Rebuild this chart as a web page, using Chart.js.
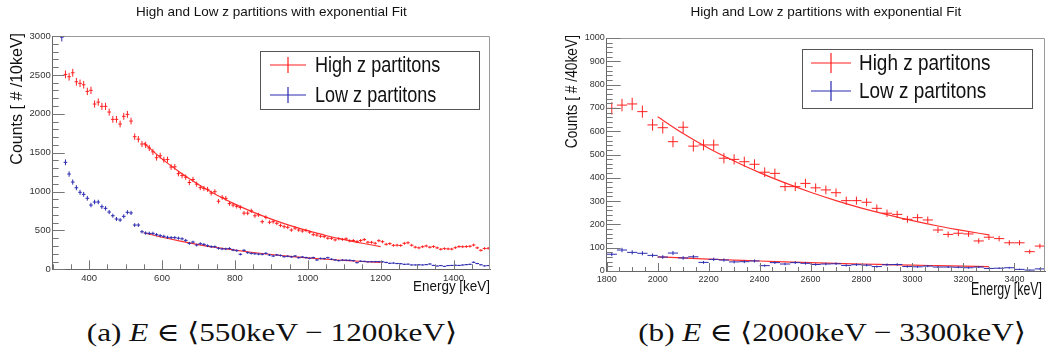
<!DOCTYPE html>
<html>
<head>
<meta charset="utf-8">
<script src="https://cdn.jsdelivr.net/npm/chart.js@4.4.0/dist/chart.umd.min.js"></script>
<style>
  body { margin: 0; background: #fff; width: 1050px; height: 356px; position: relative; overflow: hidden; }
  .pane { position: absolute; top: 0; height: 300px; }
  #paneA { left: 0; width: 520px; }
  #paneB { left: 525px; width: 525px; }
  .caption { position: absolute; top: 318px; transform: translateX(-50%) scaleX(1.2); font-family: "Liberation Serif", "DejaVu Serif", serif; font-size: 26px; line-height: 30px; white-space: nowrap; color: #111; }
  #capA { left: 272px; }
  #capB { left: 832px; }
</style>
</head>
<body>
<div class="pane" id="paneA"><canvas id="chartA" width="520" height="300"></canvas></div>
<div class="pane" id="paneB"><canvas id="chartB" width="525" height="300"></canvas></div>
<div class="caption" id="capA">(a) <i>E</i> ∈ ⟨550keV − 1200keV⟩</div>
<div class="caption" id="capB">(b) <i>E</i> ∈ ⟨2000keV − 3300keV⟩</div>
<script>
const chartTitle = 'High and Low z partitions with exponential Fit';
const seriesNames = ['High z partitons', 'Low z partitons'];

// (a) 10 keV bins, first bin centre 325 keV
const firstBinA = 325;
const binWidthA = 10;
const highZA = [
  null, 2506, 2476, 2527, 2411, 2391, 2373, 2288, 2301, 2125,
  2150, 2095, 2095, 2022, 1928, 1928, 1868, 1967, 1992, 1906,
  1705, 1673, 1611, 1600, 1560, 1510, 1435, 1460, 1409, 1411,
  1315, 1318, 1230, 1205, 1185, 1116, 1155, 1095, 1050, 1040,
  1028, 980, 998, 875, 925, 912, 845, 826, 810, 795,
  722, 722, 752, 688, 700, 612, 668, 605, 612, 592,
  565, 548, 540, 505, 530, 505, 492, 500, 478, 445,
  440, 425, 420, 400, 398, 378, 394, 385, 392, 366,
  370, 356, 370, 382, 348, 347, 335, 368, 355, 322,
  330, 308, 310, 306, 334, 341, 310, 285, 276, 290,
  300, 284, 292, 276, 258, 266, 262, 260, 278, 292,
  290, 292, 296, 312, 276, 244, 268, 270
];
const lowZA = [
  2985, 1375, 1225, 1122, 1049, 990, 964, 913, 826, 865,
  865, 805, 784, 736, 689, 647, 634, 681, 733, 725,
  569, 569, 483, 466, 462, 462, 445, 432, 424, 411,
  407, 407, 400, 392, 372, 334, 350, 312, 329, 320,
  303, 291, 290, 270, 262, 262, 268, 248, 240, 193,
  244, 214, 205, 200, 195, 193, 205, 184, 171, 185,
  178, 162, 168, 160, 171, 149, 158, 150, 141, 150,
  120, 140, 137, 149, 130, 120, 111, 118, 117, 116,
  111, 85, 104, 102, 96, 98, 98, 98, 96, 88,
  77, 80, 74, 72, 64, 66, 56, 56, 58, 56,
  60, 68, 50, 42, 48, 38, 48, 50, 52, 50,
  55, 60, 64, 90, 74, 58, 44, 48
];
const fitEnergyA = [550, 600, 650, 700, 750, 800, 850, 900, 950, 1000, 1050, 1100, 1150, 1200];
const fitHighA = [1625, 1420, 1245, 1090, 955, 838, 735, 645, 565, 497, 435, 382, 335, 292];
const fitLowA = [470, 412, 362, 318, 280, 246, 216, 190, 167, 147, 129, 114, 100, 88];
const xTicksA = [400, 600, 800, 1000, 1200, 1400];
const yTicksA = [0, 500, 1000, 1500, 2000, 2500, 3000];

// (b) 40 keV bins, first bin centre 1820 keV
const firstBinB = 1820;
const binWidthB = 40;
const highZB = [
  698, 712, 717, 684, 627, 615, 555, 617, 536, 541,
  541, 484, 479, 469, 458, 424, 419, 362, 362, 376,
  357, 348, 336, 302, 302, 295, 269, 248, 243, 222,
  229, 219, 176, 157, 162, 159, 129, 145, 139, 121,
  121, 83, 107
];
const lowZB = [
  72, 90, 80, 76, 67, 60, 77, 56, 61, 37,
  50, 47, 39, 40, 43, 23, 36, 30, 36, 33,
  28, 30, 31, 24, 27, 25, 19, 27, 28, 19,
  18, 21, 17, 17, 16, 14, 17, 11, 12, 14,
  7, 4, 9
];
const fitEnergyB = [2000, 2100, 2200, 2300, 2400, 2500, 2600, 2700, 2800, 2900, 3000, 3100, 3200, 3300];
const fitHighB = [662, 590, 527, 472, 422, 378, 338, 302, 270, 242, 216, 193, 173, 155];
const fitLowB = [61, 56, 51, 47, 43, 39.5, 36, 33, 30, 27.5, 25, 23, 21, 19];
const xTicksB = [1800, 2000, 2200, 2400, 2600, 2800, 3000, 3200, 3400];
const yTicksB = [0, 100, 200, 300, 400, 500, 600, 700, 800, 900, 1000];

const RED = '#ff2020';
const BLUE = '#2b2bb0';
const FIT = '#ff3030';
const SANS = "'Liberation Sans', Arial, sans-serif";

Chart.defaults.font.family = SANS;
Chart.defaults.color = '#333';
Chart.defaults.animation = false;

function binPoints(first, width, values) {
  return values
    .map((v, i) => ({ x: first + i * width, y: v }))
    .filter(p => p.y !== null);
}

function curvePoints(xs, ys) {
  return xs.map((x, i) => ({ x: x, y: ys[i] }));
}

// crosses: bin width horizontally, sqrt(N) vertically
const errorBars = {
  id: 'errorBars',
  afterDatasetsDraw(chart) {
    const { ctx, chartArea: a, scales: { x, y } } = chart;
    ctx.save();
    ctx.beginPath();
    ctx.rect(a.left, a.top, a.width, a.height);
    ctx.clip();
    chart.data.datasets.forEach(ds => {
      if (!ds.halfWidth) return;
      ctx.strokeStyle = ds.borderColor;
      ctx.lineWidth = 1;
      ctx.beginPath();
      ds.data.forEach(p => {
        const px = x.getPixelForValue(p.x);
        const py = y.getPixelForValue(p.y);
        const err = Math.sqrt(p.y);
        ctx.moveTo(x.getPixelForValue(p.x - ds.halfWidth), py);
        ctx.lineTo(x.getPixelForValue(p.x + ds.halfWidth), py);
        ctx.moveTo(px, y.getPixelForValue(p.y + err));
        ctx.lineTo(px, y.getPixelForValue(p.y - err));
      });
      ctx.stroke();
    });
    ctx.restore();
  }
};

// frame on top/right and tick marks pointing into the plot
const rootFrame = {
  id: 'rootFrame',
  afterDraw(chart, args, o) {
    const { ctx, chartArea: a, scales: { x, y } } = chart;
    ctx.save();
    ctx.lineWidth = 1;
    ctx.strokeStyle = o.frameColor;
    ctx.beginPath();
    ctx.moveTo(a.left, Math.round(a.top) + 0.5);
    ctx.lineTo(Math.round(a.right) - 0.5, Math.round(a.top) + 0.5);
    ctx.lineTo(Math.round(a.right) - 0.5, a.bottom);
    ctx.stroke();

    ctx.strokeStyle = o.tickColor;
    ctx.beginPath();
    const xMajor = x.ticks.map(t => t.value);
    for (let v = Math.ceil(x.min / o.xMinor) * o.xMinor; v < x.max; v += o.xMinor) {
      const len = xMajor.includes(v) ? o.xMajorLen : o.xMinorLen;
      const px = Math.round(x.getPixelForValue(v)) + 0.5;
      ctx.moveTo(px, a.bottom);
      ctx.lineTo(px, a.bottom - len);
    }
    const yMajor = y.ticks.map(t => t.value);
    for (let v = Math.ceil(y.min / o.yMinor) * o.yMinor; v <= y.max; v += o.yMinor) {
      const len = yMajor.includes(v) ? o.yMajorLen : o.yMinorLen;
      const py = Math.round(y.getPixelForValue(v)) + 0.5;
      ctx.moveTo(a.left, py);
      ctx.lineTo(a.left + len, py);
    }
    ctx.stroke();
    ctx.restore();
  }
};

// axis titles, right-aligned at the axis end; stretch < 1 narrows the glyphs
const axisTitles = {
  id: 'axisTitles',
  afterDraw(chart, args, o) {
    const ctx = chart.ctx;
    o.items.forEach(t => {
      ctx.save();
      ctx.translate(t.x, t.y);
      ctx.rotate(t.rotate);
      ctx.scale(t.stretch, 1);
      ctx.font = t.font;
      ctx.fillStyle = '#111';
      ctx.textAlign = 'right';
      ctx.textBaseline = 'middle';
      ctx.fillText(t.text, 0, 0);
      ctx.restore();
    });
  }
};

// boxed legend inside the frame
const boxLegend = {
  id: 'boxLegend',
  afterDraw(chart, args, o) {
    const { ctx } = chart;
    const [l, t, r, b] = o.box;
    ctx.save();
    ctx.fillStyle = '#fff';
    ctx.fillRect(l, t, r - l, b - t);
    ctx.strokeStyle = '#555';
    ctx.lineWidth = 1;
    ctx.strokeRect(l + 0.5, t + 0.5, r - l, b - t);
    const entries = chart.data.datasets.filter(d => d.halfWidth);
    entries.forEach((ds, i) => {
      const cy = o.rows[i];
      const cx = (o.lineX[0] + o.lineX[1]) / 2;
      ctx.strokeStyle = ds.borderColor;
      ctx.lineWidth = 1.2;
      ctx.beginPath();
      ctx.moveTo(o.lineX[0], cy);
      ctx.lineTo(o.lineX[1], cy);
      ctx.moveTo(cx, cy - o.barHalf);
      ctx.lineTo(cx, cy + o.barHalf);
      ctx.stroke();
      ctx.save();
      ctx.translate(o.textX, cy);
      ctx.scale(o.textScale, 1);
      ctx.fillStyle = '#111';
      ctx.font = o.font;
      ctx.textBaseline = 'middle';
      ctx.fillText(ds.label, 0, 1);
      ctx.restore();
    });
    ctx.restore();
  }
};

function makeChart(id, s) {
  return new Chart(document.getElementById(id), {
    type: 'scatter',
    data: {
      datasets: [
        { label: seriesNames[0], data: binPoints(s.first, s.width, s.high), borderColor: RED, pointRadius: 0, halfWidth: s.width / 2 },
        { label: seriesNames[1], data: binPoints(s.first, s.width, s.low), borderColor: BLUE, pointRadius: 0, halfWidth: s.width / 2 },
        { label: 'fit high', data: curvePoints(s.fitE, s.fitHigh), showLine: true, borderColor: FIT, borderWidth: 1.2, pointRadius: 0, cubicInterpolationMode: 'monotone' },
        { label: 'fit low', data: curvePoints(s.fitE, s.fitLow), showLine: true, borderColor: FIT, borderWidth: 1.2, pointRadius: 0, cubicInterpolationMode: 'monotone' }
      ]
    },
    options: {
      responsive: false,
      layout: { padding: { left: 0, top: 0, right: s.padRight, bottom: 0 } },
      scales: {
        x: {
          type: 'linear', min: s.xMin, max: s.xMax,
          afterBuildTicks: sc => { sc.ticks = s.xTicks.map(v => ({ value: v })); },
          afterFit: sc => { sc.height = s.xAxisH; },
          grid: { display: false, drawTicks: false },
          border: { display: true, color: '#666', width: 1 },
          ticks: { padding: s.xTickPad, font: { size: s.tickSize }, color: '#333', maxRotation: 0, autoSkip: false, callback: v => String(v) }
        },
        y: {
          type: 'linear', min: s.yMin, max: s.yMax,
          afterBuildTicks: sc => { sc.ticks = s.yTicks.map(v => ({ value: v })); },
          afterFit: sc => { sc.width = s.yAxisW; },
          grid: { display: false, drawTicks: false },
          border: { display: true, color: '#666', width: 1 },
          ticks: { padding: 2, font: { size: s.tickSize }, color: '#333', autoSkip: false, callback: v => String(v) }
        }
      },
      plugins: {
        legend: { display: false },
        tooltip: { enabled: false },
        title: {
          display: true, text: chartTitle, fullSize: false, color: '#111',
          font: { size: 13.5, weight: 'normal' },
          padding: { top: 3.9, bottom: s.titleGap }
        },
        rootFrame: {
          frameColor: '#999', tickColor: '#777',
          xMinor: 50, xMajorLen: s.xMajorLen, xMinorLen: s.xMinorLen,
          yMinor: s.yMinor, yMajorLen: s.yMajorLen, yMinorLen: s.yMinorLen
        },
        axisTitles: { items: s.titles },
        boxLegend: s.legend
      }
    },
    plugins: [errorBars, rootFrame, axisTitles, boxLegend]
  });
}

makeChart('chartA', {
  first: firstBinA, width: binWidthA, high: highZA, low: lowZA,
  fitE: fitEnergyA, fitHigh: fitHighA, fitLow: fitLowA,
  xMin: 300, xMax: 1500, yMin: 0, yMax: 3000, xTicks: xTicksA, yTicks: yTicksA,
  padRight: 30, yAxisW: 52.7, xAxisH: 30.7, titleGap: 15.9,
  tickSize: 9.5, xTickPad: 3,
  titles: [
    { text: 'Counts [ # /10keV]', x: 17.5, y: 33, rotate: -Math.PI / 2, stretch: 1, font: '16px ' + SANS },
    { text: 'Energy [keV]', x: 490, y: 287, rotate: 0, stretch: 0.96, font: '14px ' + SANS }
  ],
  xMajorLen: 9, xMinorLen: 5, yMinor: 100, yMajorLen: 12, yMinorLen: 6,
  legend: { box: [260, 51, 479, 109], lineX: [270, 306], barHalf: 8, rows: [65, 95], textX: 315, textScale: 0.82, font: '22px ' + SANS }
});

makeChart('chartB', {
  first: firstBinB, width: binWidthB, high: highZB, low: lowZB,
  fitE: fitEnergyB, fitHigh: fitHighB, fitLow: fitLowB,
  xMin: 1800, xMax: 3520, yMin: 0, yMax: 1000, xTicks: xTicksB, yTicks: yTicksB,
  padRight: 5, yAxisW: 81.7, xAxisH: 29, titleGap: 17.9,
  tickSize: 9, xTickPad: 3,
  titles: [
    { text: 'Counts [ # /40keV]', x: 47, y: 35, rotate: -Math.PI / 2, stretch: 0.81, font: '17px ' + SANS },
    { text: 'Energy [keV]', x: 517, y: 290, rotate: 0, stretch: 0.7, font: '17.7px ' + SANS }
  ],
  xMajorLen: 8, xMinorLen: 4, yMinor: 20, yMajorLen: 14, yMinorLen: 6,
  legend: { box: [277, 49, 507, 108], lineX: [286, 326], barHalf: 10, rows: [63, 91], textX: 334, textScale: 0.86, font: '22px ' + SANS }
});
</script>
</body>
</html>
